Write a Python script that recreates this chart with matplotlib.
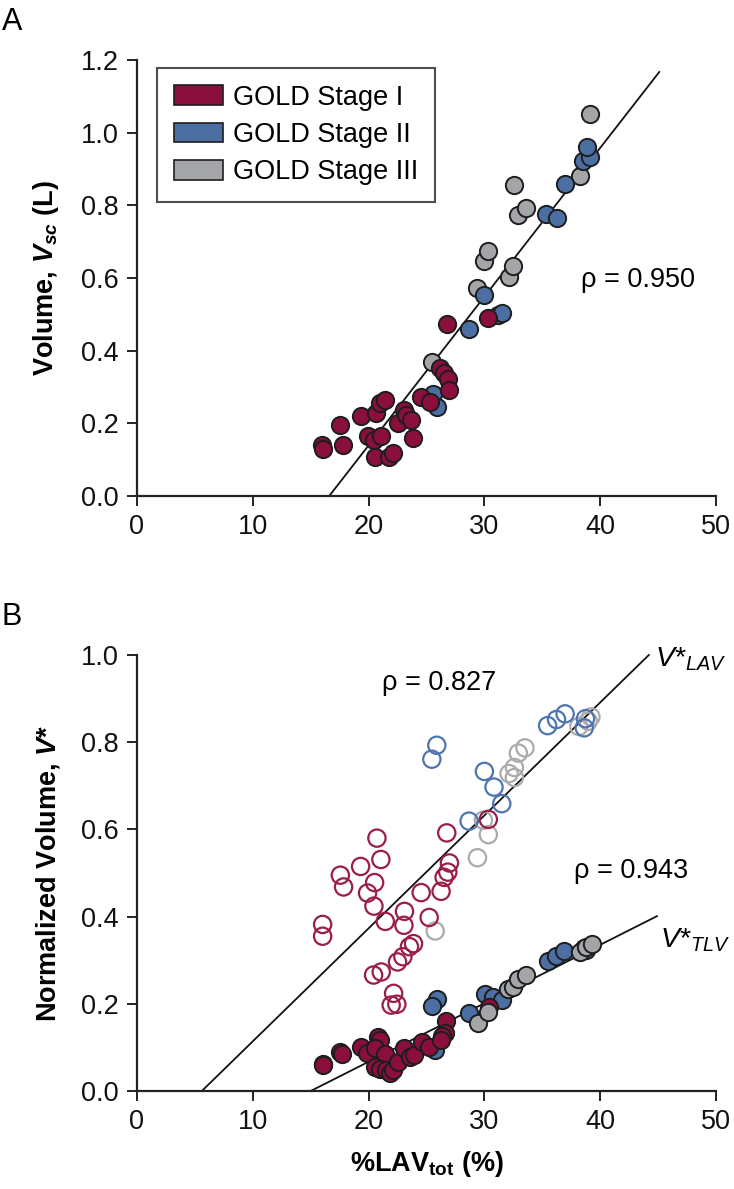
import matplotlib
matplotlib.use("Agg")
import matplotlib.pyplot as plt
from matplotlib.patches import Patch

plt.rcParams['font.family'] = ['Liberation Sans', 'DejaVu Sans']
plt.rcParams['mathtext.fontset'] = 'custom'
plt.rcParams['mathtext.rm'] = 'Liberation Sans'
plt.rcParams['mathtext.it'] = 'Liberation Sans:italic'
plt.rcParams['mathtext.bf'] = 'Liberation Sans:bold'
plt.rcParams['mathtext.bfit'] = 'Liberation Sans:italic:bold'

# ---------------- data ----------------
stages = ["GOLD Stage I", "GOLD Stage II", "GOLD Stage III"]

# Panel A : Vsc vs %LAVtot
a_I_x = [16.0, 16.1, 17.56, 17.79, 19.34, 20.63, 21.0, 21.38, 19.94, 20.43, 21.09, 20.57, 21.78, 22.07,
         22.5, 23.1, 23.2, 23.65, 23.82, 24.54, 25.26, 26.18, 26.55, 26.84, 26.98, 26.75, 30.34]
a_I_y = [0.14, 0.13, 0.195, 0.14, 0.22, 0.228, 0.255, 0.264, 0.165, 0.154, 0.165, 0.106, 0.108, 0.117,
         0.202, 0.237, 0.223, 0.209, 0.16, 0.272, 0.26, 0.352, 0.338, 0.321, 0.292, 0.473, 0.489]
a_II_x = [25.55, 25.89, 28.68, 29.97, 31.2, 31.55, 35.32, 36.23, 36.96, 38.53, 39.1, 38.82]
a_II_y = [0.28, 0.246, 0.459, 0.553, 0.498, 0.503, 0.776, 0.764, 0.859, 0.923, 0.934, 0.961]
a_III_x = [25.46, 29.34, 30.0, 30.29, 32.13, 32.5, 32.93, 33.56, 32.59, 38.25, 39.1]
a_III_y = [0.37, 0.573, 0.647, 0.675, 0.604, 0.634, 0.773, 0.792, 0.855, 0.881, 1.051]
a_fit_x = [16.6, 45.1]
a_fit_y = [0.0, 1.167]
a_rho = "ρ = 0.950"

# Panel B : open = V*LAV, filled = V*TLV
b_lav_I_x = [16.03, 16.03, 17.56, 17.84, 19.31, 20.72, 21.06, 20.52, 19.91, 20.46, 26.75, 30.34, 26.98,
             26.84, 26.52, 26.26, 24.54, 23.1, 23.05, 25.23, 21.44, 23.88, 23.53, 22.96, 22.5, 20.43,
             21.09, 22.16, 21.95, 22.44]
b_lav_I_y = [0.382, 0.355, 0.495, 0.468, 0.515, 0.580, 0.531, 0.478, 0.454, 0.424, 0.592, 0.623, 0.523,
             0.502, 0.49, 0.458, 0.455, 0.412, 0.380, 0.398, 0.389, 0.338, 0.331, 0.308, 0.296, 0.266,
             0.273, 0.224, 0.197, 0.199]
b_lav_II_x = [28.68, 31.5, 30.83, 30.0, 25.89, 25.46, 35.46, 36.23, 36.97, 38.73, 38.62]
b_lav_II_y = [0.619, 0.659, 0.697, 0.733, 0.793, 0.761, 0.838, 0.852, 0.865, 0.854, 0.833]
b_lav_III_x = [25.75, 29.4, 30.34, 29.91, 33.5, 32.93, 32.59, 32.13, 32.59, 38.16, 39.2, 38.97]
b_lav_III_y = [0.367, 0.535, 0.588, 0.621, 0.787, 0.775, 0.742, 0.728, 0.719, 0.836, 0.858, 0.848]

b_tlv_I_x = [16.03, 16.03, 17.56, 17.7, 19.34, 19.86, 20.78, 21.0, 20.57, 21.44, 20.57, 21.0, 21.49,
             21.87, 22.07, 22.5, 23.1, 23.59, 23.88, 24.6, 25.23, 26.7, 26.61, 26.38, 26.26, 30.4]
b_tlv_I_y = [0.063, 0.06, 0.089, 0.085, 0.101, 0.088, 0.124, 0.118, 0.098, 0.085, 0.056, 0.05, 0.048,
             0.042, 0.048, 0.067, 0.098, 0.079, 0.082, 0.113, 0.101, 0.161, 0.134, 0.126, 0.118, 0.193]
b_tlv_II_x = [25.75, 25.89, 25.46, 28.68, 30.06, 30.78, 31.5, 35.52, 36.15, 36.9, 38.62, 38.8]
b_tlv_II_y = [0.094, 0.212, 0.195, 0.178, 0.222, 0.216, 0.208, 0.298, 0.309, 0.321, 0.328, 0.323]
b_tlv_III_x = [29.48, 30.34, 32.07, 32.5, 32.93, 33.56, 38.25, 38.77, 39.25]
b_tlv_III_y = [0.155, 0.182, 0.235, 0.238, 0.256, 0.266, 0.319, 0.331, 0.337]

b_lav_fit_x = [5.6, 44.2]
b_lav_fit_y = [0.0, 1.0]
b_tlv_fit_x = [15.0, 44.9]
b_tlv_fit_y = [0.0, 0.401]
b_rho_lav = "ρ = 0.827"
b_rho_tlv = "ρ = 0.943"

x_ticks = [0, 10, 20, 30, 40, 50]
a_y_ticks = [0.0, 0.2, 0.4, 0.6, 0.8, 1.0, 1.2]
b_y_ticks = [0.0, 0.2, 0.4, 0.6, 0.8, 1.0]

# ---------------- style ----------------
col_fill = ["#8a0f3c", "#4b6fa3", "#a3a5a8"]
col_open = ["#9a1d4a", "#4f75b0", "#ababab"]
edge = "#1e1e1e"
FS = 19.5
MS = 155

W, H = 734, 1189
fig = plt.figure(figsize=(W / 100, H / 100), dpi=100)
L, R = 137 / W, 716 / W
axA = fig.add_axes([L, 1 - 496 / H, R - L, (496 - 60) / H])
axB = fig.add_axes([L, 1 - 1091 / H, R - L, (1091 - 655) / H])


def style(ax, yt):
    for s in ["top", "right"]:
        ax.spines[s].set_visible(False)
    for s in ["left", "bottom"]:
        ax.spines[s].set_linewidth(1.6)
        ax.spines[s].set_color("#222222")
    ax.set_xlim(0, 50)
    ax.set_xticks(x_ticks)
    ax.set_xticklabels([str(t) for t in x_ticks])
    ax.set_yticks(yt)
    ax.set_yticklabels([f"{t:.1f}" for t in yt])
    ax.set_ylim(yt[0], yt[-1])
    ax.tick_params(direction="out", length=7, width=1.4, labelsize=FS, pad=6, colors="#222222",
                   labelcolor="#111111")


# Panel A
style(axA, a_y_ticks)
axA.plot(a_fit_x, a_fit_y, color="#111111", lw=1.3, zorder=2, clip_on=False)
for xs, ys, c, z in [(a_III_x, a_III_y, col_fill[2], 3), (a_II_x, a_II_y, col_fill[1], 4),
                     (a_I_x, a_I_y, col_fill[0], 5)]:
    axA.scatter(xs, ys, s=MS, facecolor=c, edgecolor=edge, linewidth=1.4, zorder=z, clip_on=False)
axA.text(43.3, 0.595, a_rho, fontsize=FS, ha="center", va="center")
axA.set_ylabel(r"Volume, $\mathbfit{V}_{\mathbfit{sc}}$ (L)", fontsize=FS, fontweight="bold", labelpad=14)
handles = [Patch(facecolor=col_fill[i], edgecolor=edge, linewidth=1.2, label=stages[i]) for i in range(3)]
leg = axA.legend(handles=handles, loc="upper left", bbox_to_anchor=(0.0345, 0.982), borderaxespad=0,
                 fontsize=FS, frameon=True, fancybox=False, handlelength=1.8, handleheight=0.75,
                 labelspacing=0.42, handletextpad=0.4, borderpad=0.62)
leg.get_frame().set_edgecolor("#222222")
leg.get_frame().set_linewidth(1.5)

# Panel B
style(axB, b_y_ticks)
axB.plot(b_lav_fit_x, b_lav_fit_y, color="#111111", lw=1.3, zorder=2, clip_on=False)
axB.plot(b_tlv_fit_x, b_tlv_fit_y, color="#111111", lw=1.3, zorder=2, clip_on=False)
for xs, ys, c, z in [(b_lav_III_x, b_lav_III_y, col_open[2], 3), (b_lav_II_x, b_lav_II_y, col_open[1], 4),
                     (b_lav_I_x, b_lav_I_y, col_open[0], 5)]:
    axB.scatter(xs, ys, s=MS, facecolor="none", edgecolor=c, linewidth=1.6, zorder=z, clip_on=False)
for xs, ys, c, z in [(b_tlv_II_x, b_tlv_II_y, col_fill[1], 6), (b_tlv_I_x, b_tlv_I_y, col_fill[0], 7),
                     (b_tlv_III_x, b_tlv_III_y, col_fill[2], 8)]:
    axB.scatter(xs, ys, s=MS, facecolor=c, edgecolor=edge, linewidth=1.4, zorder=z, clip_on=False)
axB.text(26.1, 0.935, b_rho_lav, fontsize=FS, ha="center", va="center")
axB.text(47.6, 0.504, b_rho_tlv, fontsize=FS, ha="right", va="center")
axB.text(44.7, 0.99, r"$V$*$_{LAV}$", fontsize=FS + 1, ha="left", va="center")
axB.text(45.2, 0.345, r"$V$*$_{TLV}$", fontsize=FS + 1, ha="left", va="center")
axB.set_ylabel(r"Normalized Volume, $\mathbfit{V}$*", fontsize=FS, fontweight="bold", labelpad=14)
axB.set_xlabel(r"%LAV$_{\mathbf{tot}}$ (%)", fontsize=FS, fontweight="bold", labelpad=10)

fig.text(2 / W, 1 - 22 / H, "A", fontsize=22, ha="left", va="center")
fig.text(2 / W, 1 - 617 / H, "B", fontsize=22, ha="left", va="center")

fig.savefig("out.png", dpi=100)
